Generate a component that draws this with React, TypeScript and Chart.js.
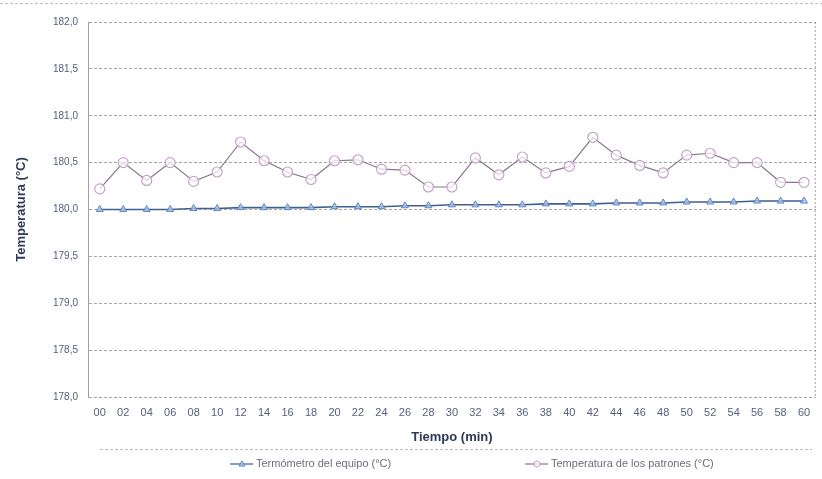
import React, { useEffect, useRef } from "react";
import { Chart, registerables } from "chart.js";

Chart.register(...registerables);

const minutes = ["00","02","04","06","08","10","12","14","16","18","20","22","24","26","28","30","32","34","36","38","40","42","44","46","48","50","52","54","56","58","60"];

const termometroEquipo = [180.00,180.00,180.00,180.00,180.01,180.01,180.02,180.02,180.02,180.02,180.03,180.03,180.03,180.04,180.04,180.05,180.05,180.05,180.05,180.06,180.06,180.06,180.07,180.07,180.07,180.08,180.08,180.08,180.09,180.09,180.09];

const temperaturaPatrones = [180.22,180.50,180.31,180.50,180.30,180.40,180.72,180.52,180.40,180.32,180.52,180.53,180.43,180.42,180.24,180.24,180.55,180.37,180.56,180.39,180.46,180.77,180.58,180.47,180.39,180.58,180.60,180.50,180.50,180.29,180.29];

const yTickLabels = ["178,0","178,5","179,0","179,5","180,0","180,5","181,0","181,5","182,0"];
const yMin = 178;
const yMax = 182;
const yStep = 0.5;

const seriesNames = ["Termómetro del equipo (°C)", "Temperatura de los patrones (°C)"];
const xTitle = "Tiempo (min)";
const yTitle = "Temperatura (°C)";

const FONT = "'Liberation Sans', Arial, sans-serif";

export default function App() {
  const ref = useRef<HTMLCanvasElement | null>(null);

  useEffect(() => {
    document.body.style.margin = "0";
    const canvas = ref.current;
    if (!canvas) return;

    const legendPlugin = {
      id: "customLegend",
      afterDraw(chart: any) {
        const ctx = chart.ctx;
        const area = chart.chartArea;
        ctx.save();
        ctx.strokeStyle = "rgba(120,120,120,0.7)";
        ctx.lineWidth = 1;
        ctx.setLineDash([2, 2]);
        ctx.beginPath();
        ctx.moveTo(area.right - 0.5, area.top);
        ctx.lineTo(area.right - 0.5, area.bottom);
        ctx.stroke();
        ctx.strokeStyle = "rgba(110,110,110,0.45)";
        ctx.setLineDash([3, 2]);
        ctx.beginPath();
        ctx.moveTo(0, 3.5);
        ctx.lineTo(822, 3.5);
        ctx.moveTo(100, 449.5);
        ctx.lineTo(812, 449.5);
        ctx.stroke();
        ctx.setLineDash([]);

        const starts = [230, 525];
        const y = 464;
        chart.data.datasets.forEach((ds: any, i: number) => {
          const x0 = starts[i];
          ctx.strokeStyle = ds.borderColor;
          ctx.lineWidth = 1.2;
          ctx.beginPath();
          ctx.moveTo(x0, y);
          ctx.lineTo(x0 + 23, y);
          ctx.stroke();
          ctx.fillStyle = ds.pointBackgroundColor;
          ctx.strokeStyle = ds.pointBorderColor;
          ctx.lineWidth = 1;
          const cx = x0 + 12;
          if (ds.pointStyle === "triangle") {
            ctx.beginPath();
            ctx.moveTo(cx, y - 3);
            ctx.lineTo(cx + 3, y + 2);
            ctx.lineTo(cx - 3, y + 2);
            ctx.closePath();
          } else {
            ctx.beginPath();
            ctx.arc(cx, y, 3, 0, Math.PI * 2);
          }
          ctx.fill();
          ctx.stroke();
          ctx.fillStyle = "#6a6f7a";
          ctx.font = `11px ${FONT}`;
          ctx.textBaseline = "middle";
          ctx.textAlign = "left";
          ctx.fillText(ds.label, x0 + 26, y);
        });
        ctx.restore();
      },
    };

    const chart = new Chart(canvas, {
      type: "line",
      data: {
        labels: minutes,
        datasets: [
          {
            label: seriesNames[0],
            data: termometroEquipo,
            borderColor: "#3f5f90",
            borderWidth: 1.6,
            pointStyle: "triangle",
            pointRadius: 4,
            pointBorderColor: "#5c86c4",
            pointBackgroundColor: "rgba(170,195,230,0.8)",
            pointBorderWidth: 1,
            tension: 0,
          },
          {
            label: seriesNames[1],
            data: temperaturaPatrones,
            borderColor: "#857888",
            borderWidth: 1.2,
            pointStyle: "circle",
            pointRadius: 5,
            pointBorderColor: "#c9a0cc",
            pointBackgroundColor: "rgba(255,255,255,0.7)",
            pointBorderWidth: 1.2,
            tension: 0,
          },
        ],
      },
      options: {
        animation: false,
        responsive: false,
        maintainAspectRatio: false,
        devicePixelRatio: 1,
        layout: { padding: { top: 22, right: 1, left: 0, bottom: 22 } },
        plugins: {
          legend: { display: false },
          tooltip: { enabled: false },
        },
        scales: {
          x: {
            type: "category",
            offset: true,
            grid: { display: false, drawTicks: false },
            border: { display: false },
            ticks: {
              autoSkip: false,
              maxRotation: 0,
              padding: 9,
              color: "#55607a",
              font: { family: FONT, size: 11 },
            },
            title: {
              display: true,
              text: xTitle,
              color: "#2d3a55",
              font: { family: FONT, size: 13, weight: "bold" },
              padding: { top: 0, bottom: 12 },
            },
            afterFit(scale: any) {
              scale.height = 60;
            },
          },
          y: {
            min: yMin,
            max: yMax,
            grid: {
              color: "rgba(110,110,110,0.6)",
              drawTicks: false,
              lineWidth: 1,
            },
            border: { display: true, color: "rgba(120,120,120,0.7)", dash: [3, 2] },
            ticks: {
              stepSize: yStep,
              padding: 10,
              color: "#55607a",
              font: { family: FONT, size: 10 },
              callback: (value: any) => {
                const idx = Math.round((Number(value) - yMin) / yStep);
                return yTickLabels[idx] ?? "";
              },
            },
            title: {
              display: true,
              text: yTitle,
              color: "#2d3a55",
              font: { family: FONT, size: 13, weight: "bold" },
              padding: { top: 14, bottom: 0 },
            },
            afterFit(scale: any) {
              scale.width = 88;
            },
          },
        },
      } as any,
      plugins: [legendPlugin],
    });

    return () => chart.destroy();
  }, []);

  return (
    <div style={{ width: 822, height: 479, background: "#fff" }}>
      <canvas ref={ref} width={822} height={479} />
    </div>
  );
}
